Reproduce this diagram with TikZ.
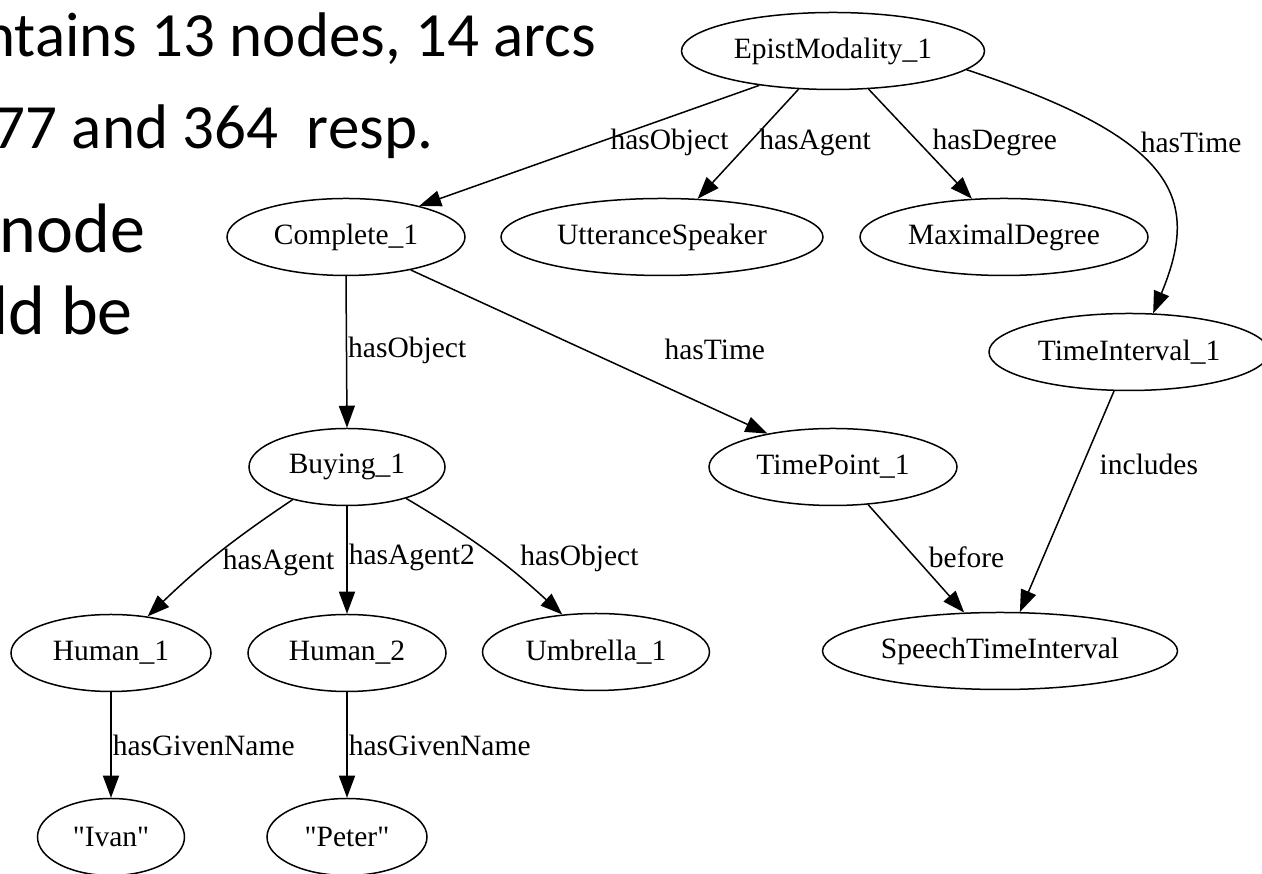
\documentclass[tikz,border=0pt]{standalone}
\usepackage{fontspec}
\setmainfont{Liberation Serif}[Ligatures=TeXOff]
\newfontfamily\slidefont{Carlito}
\usetikzlibrary{shapes.geometric,arrows.meta}
\tikzset{
% Two styles for the graph: concept ellipses and arc labels
concept node/.style={ellipse,draw,minimum height=77pt,inner sep=0pt},
arc label/.style={inner sep=1pt}
}

\begin{document}
\begin{tikzpicture}[x=1pt,y=1pt,line width=1.5pt,font=\fontsize{29.5}{34}\selectfont,
  >={Triangle[length=22pt,width=16pt]}]
\useasboundingbox (0,0) rectangle (1262,874);
% Slide text, cut off at the left
\node(t1)[anchor=base east,font=\slidefont\fontsize{63}{75}\selectfont] at (600,817) {ntains 13 nodes, 14 arcs};
\node(t2)[anchor=base east,font=\slidefont\fontsize{63}{75}\selectfont] at (437,725) {77 and 364\ \ resp.};
\node(t3)[anchor=base east,font=\slidefont\fontsize{70}{84}\selectfont] at (149,621) {node};
\node(t4)[anchor=base east,font=\slidefont\fontsize{70}{84}\selectfont] at (137,539) {ld be};
% The graph
\node(epist)[concept node,minimum width=303pt] at (833,823) {EpistModality\_1};
\node(complete)[concept node,minimum width=238pt] at (346,637) {Complete\_1};
\node(utter)[concept node,minimum width=322pt] at (662,637) {UtteranceSpeaker};
\node(maxdeg)[concept node,minimum width=288pt] at (1004,637) {MaximalDegree};
\node(tint)[concept node,minimum width=280pt] at (1129,522) {TimeInterval\_1};
\node(buying)[concept node,minimum width=196pt] at (347,407) {Buying\_1};
\node(tpoint)[concept node,minimum width=248pt] at (833,407) {TimePoint\_1};
\node(human1)[concept node,minimum width=200pt] at (111,221) {Human\_1};
\node(human2)[concept node,minimum width=198pt] at (347,221) {Human\_2};
\node(umbrella)[concept node,minimum width=227pt] at (596,222) {Umbrella\_1};
\node(speech)[concept node,minimum width=355pt] at (1000,223) {SpeechTimeInterval};
\node(ivan)[concept node,minimum width=147pt] at (111,37) {"Ivan"};
\node(peter)[concept node,minimum width=160pt] at (347,37) {"Peter"};
% The arcs
\draw[->] (epist.205) -- node[arc label,pos=.475,anchor=west,xshift=11pt]{hasObject} (complete.23);
\draw[->] (epist.228) -- node[arc label,pos=.486,anchor=west,xshift=8pt]{hasAgent} (utter.47);
\draw[->] (epist.313) -- node[arc label,pos=.486,anchor=west,xshift=12pt]{hasDegree} (maxdeg.130);
\draw[->] (epist.352) .. controls (1180,734) and (1200,674) .. node[arc label,pos=.35,anchor=west,xshift=14pt]{hasTime} (tint.58);
\draw[->] (complete.south) -- node[arc label,pos=.49,anchor=west]{hasObject} (buying.north);
\draw[->] (complete.333) -- node[arc label,pos=.485,anchor=west,xshift=79pt]{hasTime} (tpoint.153);
\draw[->] (buying.211) to[bend right=5] node[arc label,pos=.5,anchor=west,xshift=4pt,yshift=-8pt]{hasAgent} (human1.45);
\draw[->] (buying.south) -- node[arc label,pos=.48,anchor=west]{hasAgent2} (human2.north);
\draw[->] (buying.332) to[bend left=6] node[arc label,pos=.5,anchor=west,xshift=31pt,yshift=-7pt]{hasObject} (umbrella.132);
\draw[->] (human1.south) -- node[arc label,pos=.5,anchor=west]{hasGivenName} (ivan.north);
\draw[->] (human2.south) -- node[arc label,pos=.5,anchor=west]{hasGivenName} (peter.north);
\draw[->] (tpoint.313) -- node[arc label,pos=.49,anchor=west,xshift=12pt]{before} (speech.133);
\draw[->] (tint.249) -- node[arc label,pos=.33,anchor=west,xshift=15pt]{includes} (speech.63);
\end{tikzpicture}
\end{document}
